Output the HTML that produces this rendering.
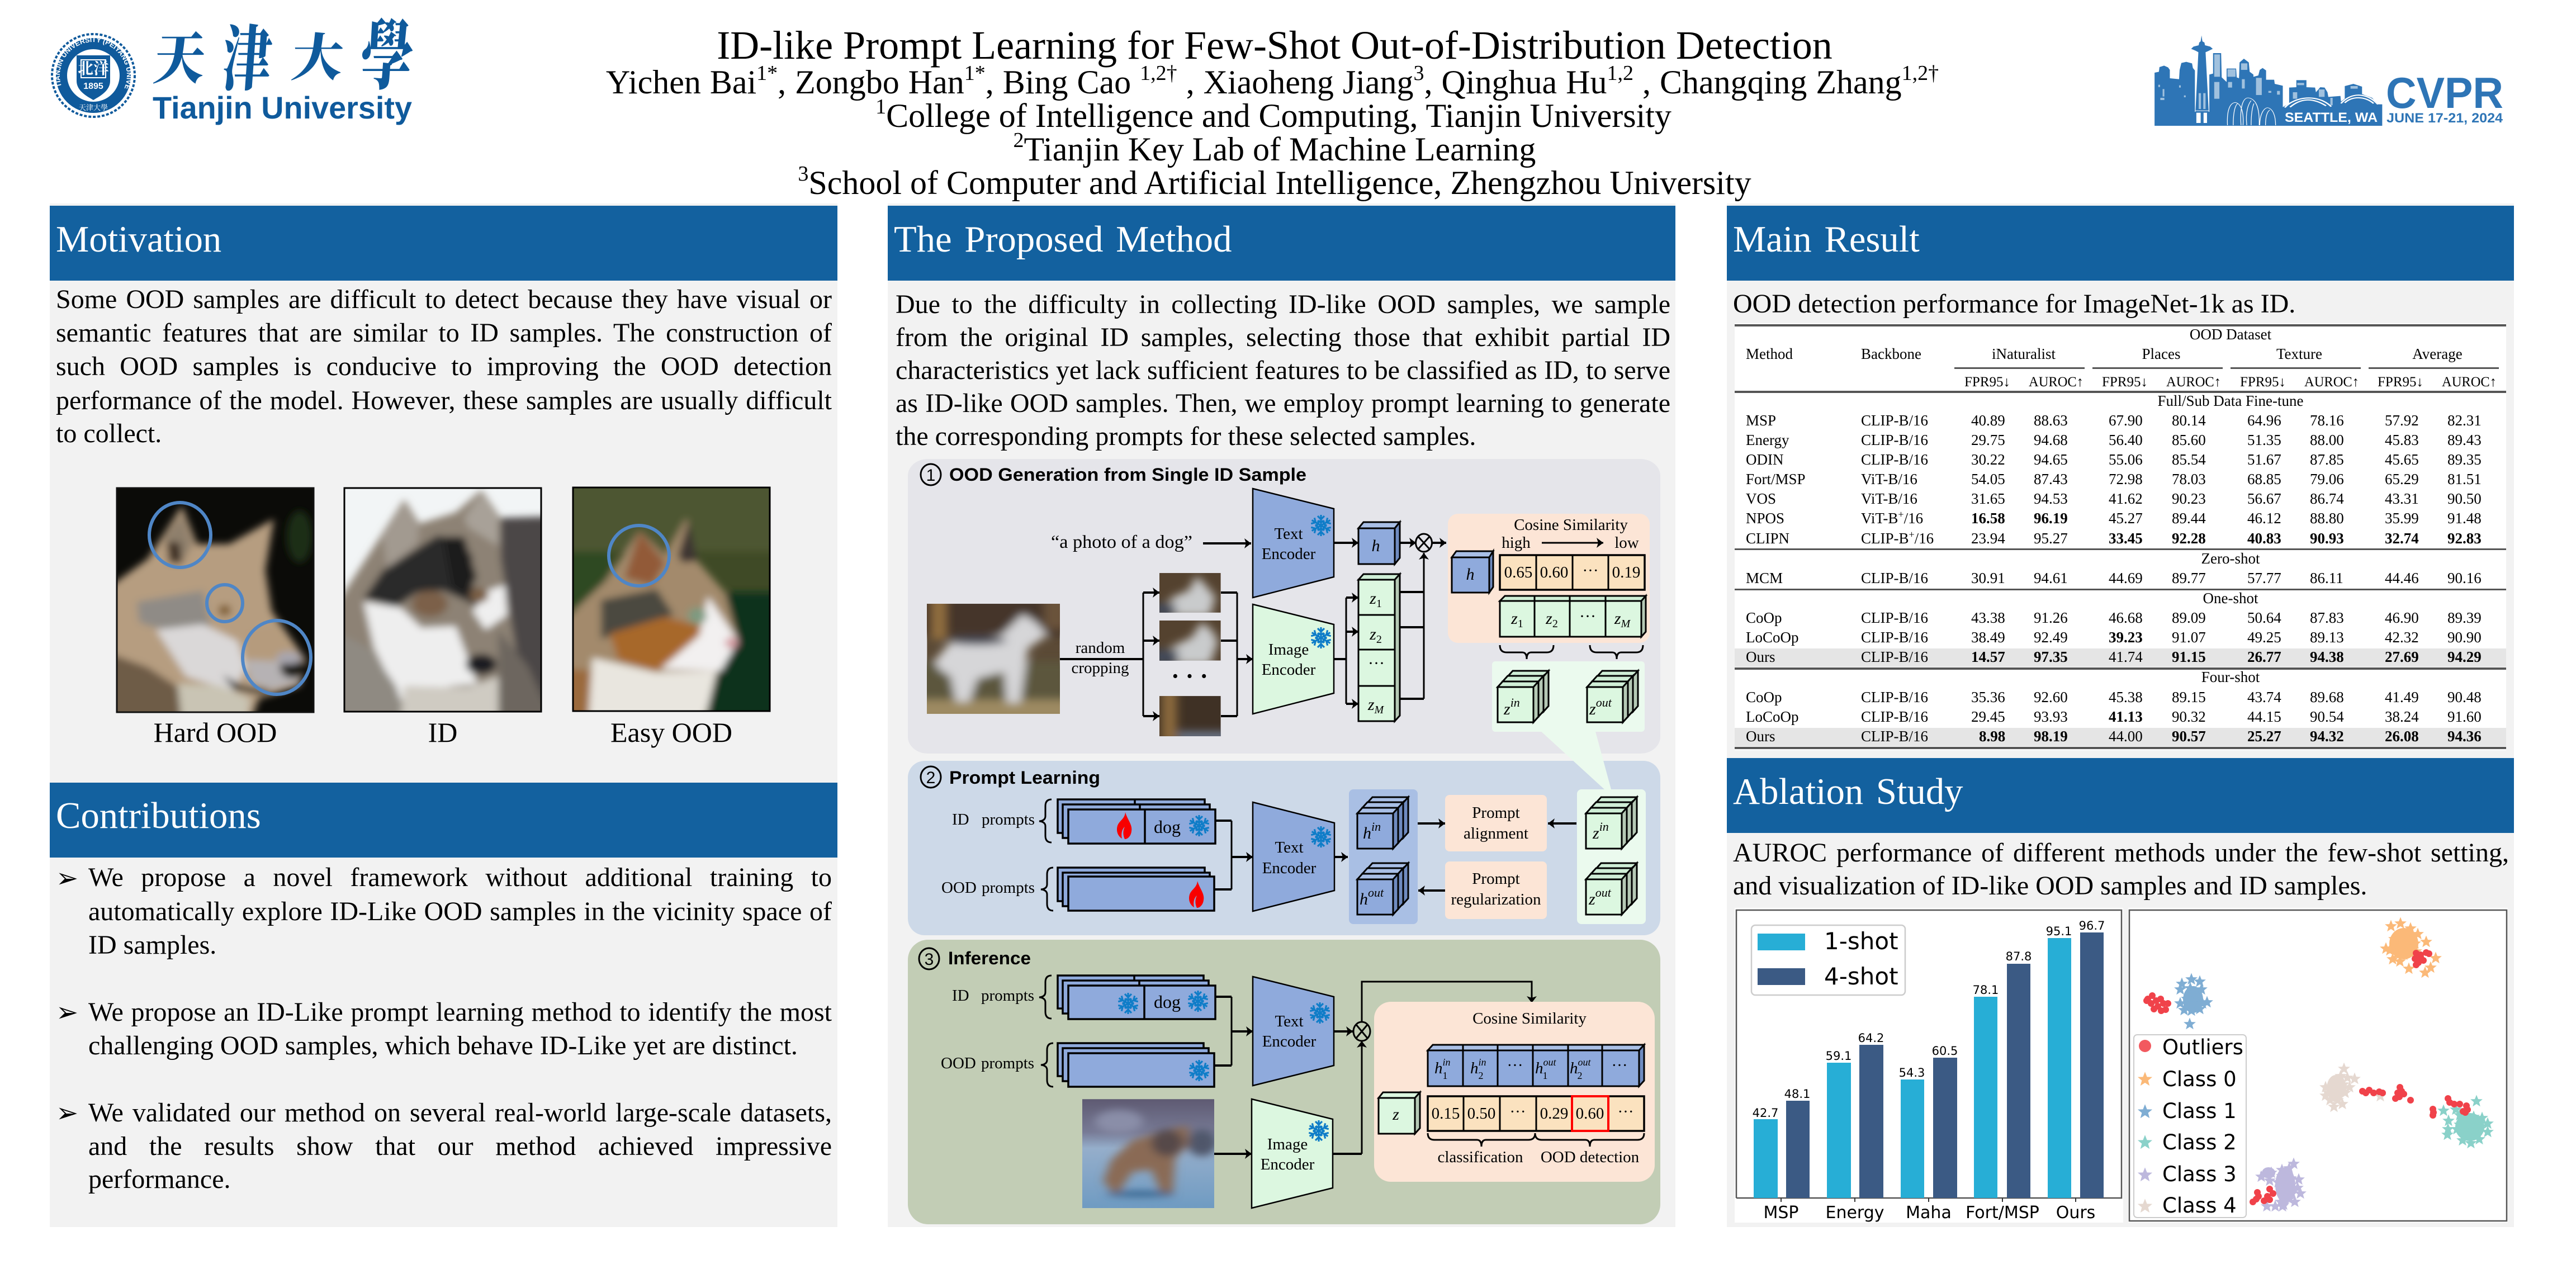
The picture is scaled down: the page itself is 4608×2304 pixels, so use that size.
<!DOCTYPE html>
<html><head><meta charset="utf-8"><title>ID-like Prompt Learning Poster</title>
<style>
html,body{margin:0;padding:0;background:#fff;width:4608px;height:2304px;overflow:hidden}
#w{position:absolute;left:0;top:0;width:4608px;height:2304px}
svg{position:absolute;left:0;top:0}
svg text{font-family:"Liberation Serif","Noto Serif CJK SC",serif;fill:#000}
.j{position:absolute;font:48px/60px "Liberation Serif",serif;color:#000;text-align:justify;text-align-last:justify}
.l{text-align-last:left}
.s{font-family:"Liberation Sans",sans-serif!important;font-weight:700}
.d{font-family:"DejaVu Sans",sans-serif!important}
.i{font-style:italic}
.hd{font-size:66.67px;fill:#fff!important;word-spacing:6px}
.ln{fill:none;stroke:#000;stroke-width:4}
.n{fill:none;stroke:#000;stroke-width:3}
</style></head><body><div id="w">
<svg width="4608" height="2304" viewBox="0 0 4608 2304" xmlns="http://www.w3.org/2000/svg">
<defs>
<marker id="a" markerUnits="userSpaceOnUse" markerWidth="14" markerHeight="18" refX="12" refY="9" orient="auto"><path d="M0,0L12,9L0,18L3,9Z"/></marker>
<filter id="b3" x="-20%" y="-20%" width="140%" height="140%"><feGaussianBlur stdDeviation="9 20"/></filter>
<clipPath id="c1"><rect x="209" y="873" width="352" height="401"/></clipPath>
<clipPath id="c2"><rect x="616" y="873" width="352" height="400"/></clipPath>
<clipPath id="c3"><rect x="1025" y="872" width="352" height="400"/></clipPath>
<clipPath id="c4"><rect x="1658" y="1080" width="238" height="197"/></clipPath>
<clipPath id="c5"><rect x="1936" y="1966" width="236" height="195"/></clipPath>
<clipPath id="c6"><rect x="2074" y="1025" width="110" height="71"/></clipPath>
<clipPath id="c7"><rect x="2074" y="1110" width="110" height="72"/></clipPath>
<clipPath id="c8"><rect x="2074" y="1245" width="110" height="72"/></clipPath>
<linearGradient id="snow" x1="0" y1="0" x2="0" y2="1"><stop offset="0" stop-color="#5e5a72"/><stop offset=".3" stop-color="#777a95"/><stop offset=".45" stop-color="#95aecb"/><stop offset="1" stop-color="#6f9bc2"/></linearGradient>
<g id="arm"><path d="M0,0V-19M-6,-17L0,-11L6,-17M-5,-9L0,-5L5,-9"/></g>
<g id="sf" stroke="#0f7dc8" stroke-width="3.2" fill="none"><use href="#arm"/><use href="#arm" transform="rotate(60)"/><use href="#arm" transform="rotate(120)"/><use href="#arm" transform="rotate(180)"/><use href="#arm" transform="rotate(240)"/><use href="#arm" transform="rotate(300)"/></g>
<path id="fl" fill="#f80000" d="M2,-24C6,-10 15,-2 13,10C12,19 6,24 1,24C-2,18 -3,10 1,2C-6,8 -5,18 -4,23C-11,19 -15,10 -12,0C-9,-9 1,-12 2,-24Z"/>
<g id="cg" stroke="#000" stroke-width="3"><polygon points="0,0 9,-10 73,-10 64,0" fill="#cfeed6"/><polygon points="64,0 73,-10 73,53 64,63" fill="#b5c9b5"/><rect width="64" height="63" fill="#dcf7e0"/></g>
<g id="cb" stroke="#000" stroke-width="3"><polygon points="0,0 9,-10 73,-10 64,0" fill="#a9bfe6"/><polygon points="64,0 73,-10 73,53 64,63" fill="#6f8bc0"/><rect width="64" height="63" fill="#8faadc"/></g>
<g id="zs"><use href="#cg" x="18" y="-19"/><use href="#cg" x="9" y="-10"/><use href="#cg"/></g>
<g id="hs"><use href="#cb" x="18" y="-19"/><use href="#cb" x="9" y="-10"/><use href="#cb"/></g>
<path id="st" d="M0,-11.5L3,-3.9L10.9,-3.6L4.7,1.5L6.8,9.3L0,4.9L-6.8,9.3L-4.7,1.5L-10.9,-3.6L-3,-3.9Z"/>
</defs>

<!-- Panels -->
<rect x="89" y="364" width="1409" height="1831" fill="#f2f2f2"/>
<rect x="1588" y="364" width="1409" height="1831" fill="#f2f2f2"/>
<rect x="3089" y="364" width="1408" height="1831" fill="#f2f2f2"/>
<rect x="89" y="368" width="1409" height="134" fill="#13619f"/>
<rect x="89" y="1400" width="1409" height="134" fill="#13619f"/>
<rect x="1588" y="368" width="1409" height="134" fill="#13619f"/>
<rect x="3089" y="368" width="1408" height="134" fill="#13619f"/>
<rect x="3089" y="1356" width="1408" height="134" fill="#13619f"/>
<text x="100" y="450" class="hd">Motivation</text>
<text x="100" y="1481" class="hd">Contributions</text>
<text x="1599" y="450" class="hd">The Proposed Method</text>
<text x="3100" y="450" class="hd">Main Result</text>
<text x="3100" y="1438" class="hd">Ablation Study</text>

<!-- Title -->
<g text-anchor="middle">
<text x="2280" y="105" font-size="72">ID-like Prompt Learning for Few-Shot Out-of-Distribution Detection</text>
<text x="2276" y="167" font-size="60" word-spacing="1">Yichen Bai<tspan font-size="38" dy="-24">1*</tspan><tspan dy="24">, Zongbo Han</tspan><tspan font-size="38" dy="-24">1*</tspan><tspan dy="24">, Bing Cao </tspan><tspan font-size="38" dy="-24">1,2†</tspan><tspan dy="24"> , Xiaoheng Jiang</tspan><tspan font-size="38" dy="-24">3</tspan><tspan dy="24">, Qinghua Hu</tspan><tspan font-size="38" dy="-24">1,2</tspan><tspan dy="24"> , Changqing Zhang</tspan><tspan font-size="38" dy="-24">1,2†</tspan></text>
<text x="2278" y="227" font-size="60"><tspan font-size="38" dy="-24">1</tspan><tspan dy="24">College of Intelligence and Computing, Tianjin University</tspan></text>
<text x="2280" y="287" font-size="60"><tspan font-size="38" dy="-24">2</tspan><tspan dy="24">Tianjin Key Lab of Machine Learning</tspan></text>
<text x="2280" y="347" font-size="60"><tspan font-size="38" dy="-24">3</tspan><tspan dy="24">School of Computer and Artificial Intelligence, Zhengzhou University</tspan></text>
</g>

<!-- Tianjin logo -->
<g transform="translate(167,135)">
<circle r="74" fill="#fff" stroke="#0f5a9c" stroke-width="4" stroke-dasharray="5 3"/>
<circle r="67" fill="#0f5a9c"/>
<circle r="47" fill="#fff"/>
<path id="sr" d="M-55,24A60,60 0 1 1 55,24" fill="none"/>
<text font-size="12.5" style="fill:#fff" font-family="Liberation Sans" class="s"><textPath href="#sr" startOffset="2%">TIANJIN UNIVERSITY (PEIYANG UNIVERSITY)</textPath></text>
<path d="M-30,-36H30V10C30,28 10,38 0,44C-10,38 -30,28 -30,10Z" fill="#0f5a9c"/>
<path d="M-22,-28H22V4H-22Z" fill="none" stroke="#fff" stroke-width="2"/>
<text x="0" y="-3" text-anchor="middle" font-size="28" style="fill:#fff" font-weight="700">北洋</text>
<text x="0" y="24" text-anchor="middle" font-size="16" style="fill:#fff" class="s">1895</text>
<text x="0" y="62" text-anchor="middle" font-size="13" style="fill:#fff">天津大學</text>
</g>
<g font-family="Noto Serif CJK SC" font-size="96" text-anchor="middle">
<text transform="translate(318,140) scale(.95,1.05) skewX(-6)" style="fill:#0f5a9c;font-weight:900">天</text>
<text transform="translate(439,150) scale(.9,1.32) skewX(-6)" style="fill:#0f5a9c;font-weight:900">津</text>
<text transform="translate(565,135) scale(.95,.95) skewX(-6)" style="fill:#0f5a9c;font-weight:900">大</text>
<text transform="translate(689,148) scale(.98,1.42) skewX(-6)" style="fill:#0f5a9c;font-weight:900">學</text>
</g>
<text x="273" y="212" font-size="56" class="s" style="fill:#0f5a9c" textLength="464" lengthAdjust="spacingAndGlyphs">Tianjin University</text>

<!-- CVPR logo -->
<g transform="translate(3800,0) scale(.5155,.3333)" fill="#2e75b6">
<polygon points="105,675 105,390 120,385 122,360 138,352 152,362 158,375 158,420 190,425 192,375 198,338 215,332 235,340 238,365 245,378 245,600 270,600 295,600 295,400 308,395 308,285 336,285 338,415 355,440 355,368 388,368 390,415 398,420 400,335 415,315 432,335 435,385 448,400 448,412 465,405 470,375 480,365 492,378 492,428 520,428 522,450 550,460 550,575 572,555 572,470 597,468 597,430 632,430 632,468 662,470 665,495 680,468 695,470 705,495 708,520 750,515 752,545 765,530 765,462 795,450 825,465 825,505 860,525 880,560 895,560 895,675"/>
<polygon points="268,190 271,222 278,228 280,243 298,250 307,262 290,275 282,280 295,660 245,660 257,280 247,272 232,262 240,250 258,243 260,228 265,222"/>
<g fill="#fff" fill-opacity=".55"><rect x="250" y="605" width="15" height="55" fill-opacity="1"/><rect x="275" y="605" width="12" height="55" fill-opacity="1"/><rect x="258" y="500" width="8" height="85"/><rect x="274" y="500" width="8" height="85"/><rect x="245" y="592" width="50" height="5"/>
<rect x="125" y="525" width="14" height="12"/><rect x="133" y="478" width="6" height="40"/><rect x="118" y="455" width="6" height="12"/><rect x="190" y="458" width="6" height="12"/><rect x="207" y="512" width="6" height="10"/>
<rect x="312" y="292" width="20" height="120"/><rect x="312" y="440" width="18" height="90"/><rect x="358" y="372" width="28" height="40"/><rect x="360" y="440" width="14" height="30"/><rect x="405" y="340" width="22" height="35"/><rect x="408" y="425" width="10" height="50"/><rect x="457" y="418" width="20" height="92"/><rect x="500" y="488" width="10" height="10"/><rect x="530" y="488" width="10" height="20"/>
<rect x="600" y="445" width="24" height="12"/><rect x="585" y="495" width="15" height="35"/><rect x="675" y="480" width="20" height="40"/><rect x="715" y="525" width="8" height="40"/><rect x="785" y="462" width="25" height="14"/></g>
<g fill="none" stroke="#fff" stroke-width="2.5" vector-effect="non-scaling-stroke">
<path d="M358,672C355,580 370,552 385,550C405,555 415,600 412,672M378,672C378,600 385,560 395,555"/>
<path d="M405,672C400,560 415,525 430,525C455,530 470,570 468,672M425,672C420,600 430,560 440,540M440,672C440,610 445,570 450,555"/>
<path d="M470,672C470,610 485,580 497,578C515,582 525,620 525,672M490,672C490,625 495,600 505,590"/>
<path d="M557,577C590,520 670,500 718,572M575,575C610,530 650,520 700,568" stroke-width="6"/>
<path d="M752,555C790,490 845,500 880,560M765,552C790,515 835,515 865,555" stroke-width="6"/>
</g></g>
<text x="4087" y="218" font-size="24" class="s" style="fill:#fff" textLength="166" lengthAdjust="spacingAndGlyphs">SEATTLE, WA</text>
<text x="4268" y="193" font-size="78" class="s" style="fill:#2e75b6" textLength="210" lengthAdjust="spacingAndGlyphs">CVPR</text>
<text x="4269" y="219" font-size="24" class="s" style="fill:#2e75b6" textLength="208" lengthAdjust="spacingAndGlyphs">JUNE 17-21, 2024</text>

<!-- Motivation photos -->
<g clip-path="url(#c1)"><g transform="translate(180,860) scale(.7651,.3333)"><rect x="38" y="40" width="460" height="1203" fill="#0b0b08"/><g filter="url(#b3)">
<ellipse cx="465" cy="300" rx="30" ry="140" fill="#1c2e14"/>
<polygon points="-10,1300 -10,620 110,420 190,135 225,340 300,340 405,205 385,480 400,700 480,960 465,1100 370,1170 350,1300" fill="#b69d80"/>
<polygon points="150,300 190,180 215,340 190,440 160,420" fill="#8e7f6c"/><polygon points="155,330 185,330 190,445 160,440" fill="#3d2d22"/>
<polygon points="85,650 240,590 260,820 130,790 90,760" fill="#8f8b86"/>
<polygon points="130,800 240,770 320,860 340,1000 310,1130 200,1050" fill="#dad8d8"/>
<polygon points="-10,900 110,1000 190,1120 260,1150 350,1300 -10,1300" fill="#6e5b46"/>
<polygon points="180,1090 280,1100 350,1170 340,1300 190,1300" fill="#c9c4b4"/>
<polygon points="345,800 410,780 470,950 430,1000 340,980" fill="#b59b7d"/>
<polygon points="340,960 430,970 470,1080 400,1120 350,1080" fill="#b6b2b4"/>
<ellipse cx="450" cy="1005" rx="30" ry="55" fill="#14120f"/><ellipse cx="440" cy="950" rx="30" ry="35" fill="#a8a6ae"/>
<polygon points="285,1040 330,1100 400,1125 380,1150 310,1120" fill="#1e1a18"/>
<ellipse cx="290" cy="695" rx="14" ry="30" fill="#7b5a2c"/></g></g></g>
<rect x="209" y="873" width="352" height="401" fill="none" stroke="#111" stroke-width="3"/>
<g fill="none" stroke="#4f86c6" stroke-width="6"><ellipse cx="322" cy="957" rx="55" ry="58"/><ellipse cx="402" cy="1079" rx="32" ry="33"/><ellipse cx="495" cy="1176" rx="61" ry="66"/></g>

<g clip-path="url(#c2)"><g transform="translate(180,860) scale(.7651,.3333)"><rect x="570" y="40" width="460" height="1200" fill="#f2f5f6"/><g filter="url(#b3)">
<polygon points="925,200 1080,190 1080,1300 925,1300" fill="#4b4646"/>
<polygon points="540,1300 540,700 640,350 710,100 745,230 830,170 890,50 935,200 935,420 955,700 1000,1300" fill="#8d8274"/>
<polygon points="660,300 710,120 745,250 740,340 670,470" fill="#a29a90"/><polygon points="850,200 890,70 930,200 930,350 860,250" fill="#a8a198"/>
<polygon points="615,630 660,480 790,290 870,400 860,560 905,600 890,690 850,640 800,590 740,600 690,680" fill="#2b2929"/>
<polygon points="800,300 850,300 880,520 850,620 820,560" fill="#1d1c1c"/>
<polygon points="615,650 700,680 750,790 830,780 880,1090 820,1100 700,1180 640,900" fill="#eeeeee"/>
<polygon points="905,590 945,560 950,720 900,800 870,700" fill="#efefef"/>
<ellipse cx="770" cy="660" rx="42" ry="70" fill="#7b6048"/><ellipse cx="885" cy="615" rx="22" ry="40" fill="#7a5f45"/>
<ellipse cx="890" cy="985" rx="36" ry="55" fill="#1e1e20"/>
<polygon points="540,800 630,900 690,1100 720,1300 540,1300" fill="#8f8a82"/>
<polygon points="930,800 1000,1000 1060,1300 930,1300" fill="#6d665f"/>
<polygon points="710,1100 860,1110 930,1050 930,1300 700,1300" fill="#cfcbc2"/></g></g></g>
<rect x="616" y="873" width="352" height="400" fill="none" stroke="#000" stroke-width="3"/>

<g clip-path="url(#c3)"><g transform="translate(180,860) scale(.7651,.3333)"><rect x="1105" y="37" width="460" height="1200" fill="#3f4a26"/><g filter="url(#b3)">
<rect x="1060" y="-20" width="560" height="400" fill="#4e5730"/>
<rect x="1420" y="600" width="200" height="700" fill="#10301c"/>
<rect x="1060" y="380" width="135" height="300" fill="#2f4a22"/>
<polygon points="1060,1300 1060,800 1180,540 1260,270 1320,400 1370,200 1395,430 1460,600 1490,860 1440,1040 1410,1300" fill="#a38a6c"/>
<polygon points="1225,520 1260,275 1320,440 1290,560" fill="#925a38"/><polygon points="1350,400 1375,215 1395,430 1360,440" fill="#3e3430"/>
<polygon points="1170,850 1170,640 1300,580 1340,720 1290,760 1210,820" fill="#4b4a40"/>
<polygon points="1190,820 1320,730 1420,790 1400,880 1300,1020 1210,960" fill="#a7672c"/>
<polygon points="1060,1000 1150,1020 1150,1300 1060,1300" fill="#9b6a3e"/>
<polygon points="1150,950 1300,1030 1440,1020 1410,1300 1140,1300" fill="#e9e6df"/>
<polygon points="1420,620 1490,860 1450,1020 1310,1010 1400,830" fill="#f2f0f0"/>
<ellipse cx="1395" cy="725" rx="22" ry="45" fill="#7e9a80"/><ellipse cx="1475" cy="870" rx="15" ry="30" fill="#d59aa0"/></g></g></g>
<rect x="1025" y="872" width="352" height="400" fill="none" stroke="#000" stroke-width="3"/>
<ellipse cx="1143" cy="994" rx="54" ry="54" fill="none" stroke="#4f86c6" stroke-width="6"/>
<g font-size="50" text-anchor="middle"><text x="385" y="1327">Hard OOD</text><text x="792" y="1327">ID</text><text x="1201" y="1327">Easy OOD</text></g>

<g font-size="48"><text x="100" y="1587" class="d">➢</text><text x="100" y="1827" class="d">➢</text><text x="100" y="2007" class="d">➢</text></g>

<!-- Diagram panel backgrounds -->
<rect x="1624" y="821" width="1346" height="527" rx="36" ry="30" fill="#e5e5ea"/>
<rect x="1624" y="1361" width="1346" height="312" rx="30" fill="#cdd9e8"/>
<rect x="1624" y="1681" width="1346" height="509" rx="36" fill="#c2cdb5"/>
<polygon points="2753,1305 2853,1305 2882,1412 2870,1412" fill="#ebfaee"/>

<!-- Panel 1 -->
<g class="p1">
<ellipse cx="1665" cy="849" rx="18" ry="19" class="n"/><text x="1665" y="860" font-size="30" text-anchor="middle" class="s" style="font-weight:400">1</text>
<text x="1698" y="860" font-size="32" class="s" textLength="639" lengthAdjust="spacingAndGlyphs">OOD Generation from Single ID Sample</text>

<polygon points="2241,874 2386,910 2386,1032 2241,1069" fill="#8faadc" stroke="#000" stroke-width="2.5"/>
<polygon points="2241,1081 2386,1117 2386,1240 2241,1277" fill="#dcf7e0" stroke="#000" stroke-width="2.5"/>
<use href="#sf" transform="translate(2363,940)"/><use href="#sf" transform="translate(2363,1141)"/>
<g font-size="29" text-anchor="middle"><text x="2305" y="964">Text</text><text x="2305" y="1000">Encoder</text><text x="2305" y="1171">Image</text><text x="2305" y="1207">Encoder</text>
<text x="1968" y="1168">random</text><text x="1968" y="1204">cropping</text></g>
<text x="1880" y="980" font-size="33" textLength="253" lengthAdjust="spacingAndGlyphs">“a photo of a dog”</text>
<path d="M2152,972H2238" class="ln" marker-end="url(#a)"/>
<path d="M2386,971H2430" class="ln" marker-end="url(#a)"/>
<g stroke="#000" stroke-width="3"><polygon points="2430,945 2439,934 2504,934 2495,945" fill="#a9bfe6"/><polygon points="2495,945 2504,934 2504,998 2495,1009" fill="#6f8bc0"/><rect x="2430" y="945" width="65" height="64" fill="#8faadc"/></g>
<text x="2461" y="986" font-size="30" class="i" text-anchor="middle">h</text>
<path d="M2504,971H2533" class="ln" marker-end="url(#a)"/>
<ellipse cx="2547" cy="971" rx="14.5" ry="16" class="n"/><path d="M2537,960L2557,982M2557,960L2537,982" class="n"/>
<path d="M2561,971H2587" class="ln" marker-end="url(#a)"/>
<g stroke="#000" stroke-width="3"><polygon points="2430,1037 2439,1027 2504,1027 2495,1037" fill="#cfeed6"/><polygon points="2495,1037 2504,1027 2504,1280 2495,1290" fill="#b5c9b5"/>
<rect x="2430" y="1037" width="65" height="63" fill="#dcf7e0"/><rect x="2430" y="1100" width="65" height="62" fill="#dcf7e0"/><rect x="2430" y="1162" width="65" height="65" fill="#dcf7e0"/><rect x="2430" y="1227" width="65" height="63" fill="#dcf7e0"/></g>
<g font-size="30" text-anchor="middle"><text x="2461" y="1080" class="i">z<tspan font-size="20" dy="6" style="font-style:normal">1</tspan></text><text x="2461" y="1144" class="i">z<tspan font-size="20" dy="6" style="font-style:normal">2</tspan></text><text x="2462" y="1196">···</text><text x="2461" y="1270" class="i">z<tspan font-size="20" dy="6">M</tspan></text></g>
<path d="M2504,1059H2547M2504,1122H2547M2504,1250H2547" class="ln"/>
<path d="M2547,1250V989" class="n" marker-end="url(#a)"/>
<path d="M2386,1179H2408" class="ln"/>
<path d="M2408,1069V1259" class="n"/>
<path d="M2408,1069H2430" class="ln" marker-end="url(#a)"/><path d="M2408,1130H2430" class="ln" marker-end="url(#a)"/><path d="M2408,1259H2430" class="ln" marker-end="url(#a)"/>
<g clip-path="url(#c4)"><g transform="translate(1600,800) scale(.9567,.3827)"><rect x="61" y="733" width="248" height="512" fill="#5b4a36"/><g filter="url(#b3)">
<rect x="20" y="700" width="330" height="180" fill="#45362a"/><rect x="70" y="700" width="26" height="200" fill="#93703f"/><rect x="280" y="700" width="50" height="150" fill="#6a533a"/>
<rect x="20" y="1000" width="330" height="190" fill="#5c573c"/><rect x="20" y="1180" width="330" height="100" fill="#9d8a62"/>
<polygon points="75,1000 105,910 200,880 240,780 265,820 285,880 250,940 235,1195 210,1195 205,1050 155,1080 140,1190 115,1190 105,1070 85,1040" fill="#d6d6d8"/>
<ellipse cx="155" cy="905" rx="55" ry="20" fill="#444a58"/></g></g></g>
<path d="M1896,1179H2045" class="ln"/><path d="M2045,1060V1281" class="n"/>
<path d="M2045,1060H2074" class="ln" marker-end="url(#a)"/><path d="M2045,1146H2074" class="ln" marker-end="url(#a)"/><path d="M2045,1281H2074" class="ln" marker-end="url(#a)"/>
<g clip-path="url(#c6)"><g transform="translate(1600,800) scale(.9567,.3827)"><rect x="495" y="588" width="115" height="185" fill="#54422f"/><g filter="url(#b3)"><polygon points="495,790 520,700 550,670 565,600 580,640 600,700 590,790" fill="#c9cbcc"/><rect x="480" y="730" width="45" height="60" fill="#424a58"/></g></g></g>
<g clip-path="url(#c7)"><g transform="translate(1600,800) scale(.9567,.3827)"><rect x="495" y="810" width="115" height="187" fill="#54422f"/><g filter="url(#b3)"><polygon points="495,1015 520,930 555,890 575,815 595,860 605,910 590,1015" fill="#c9cbcc"/><rect x="480" y="945" width="50" height="70" fill="#424a58"/></g></g></g>
<g clip-path="url(#c8)"><g transform="translate(1600,800) scale(.9567,.3827)"><rect x="495" y="1163" width="115" height="190" fill="#3f3125"/><g filter="url(#b3)"><rect x="500" y="1130" width="28" height="250" fill="#8c6a3e"/><rect x="530" y="1330" width="100" height="45" fill="#6d7a90"/></g></g></g>
<text x="2128" y="1224" font-size="44" text-anchor="middle" font-weight="700">· · ·</text>
<path d="M2184,1060H2213M2184,1146H2213M2184,1281H2213" class="ln"/><path d="M2213,1060V1281" class="n"/>
<path d="M2213,1179H2241" class="ln" marker-end="url(#a)"/>

<rect x="2590" y="919" width="361" height="231" rx="18" fill="#fce5d6"/>
<g font-size="29" text-anchor="middle"><text x="2810" y="948">Cosine Similarity</text><text x="2712" y="980">high</text><text x="2910" y="980">low</text></g>
<path d="M2758,971H2868" class="n" marker-end="url(#a)"/>
<g stroke="#000" stroke-width="3"><polygon points="2597,997 2605,986 2671,986 2664,997" fill="#a9bfe6"/><polygon points="2664,997 2671,986 2671,1050 2664,1060" fill="#6f8bc0"/><rect x="2597" y="997" width="67" height="63" fill="#8faadc"/></g>
<text x="2630" y="1037" font-size="30" class="i" text-anchor="middle">h</text>
<rect x="2683" y="993" width="259" height="62" fill="#fbe2bf" stroke="#000" stroke-width="3.5"/>
<path d="M2748,993V1055M2813,993V1055M2877,993V1055" class="n"/>
<g font-size="29" text-anchor="middle"><text x="2716" y="1033">0.65</text><text x="2780" y="1033">0.60</text><text x="2845" y="1030">···</text><text x="2909" y="1033">0.19</text></g>
<g stroke="#000" stroke-width="3"><polygon points="2683,1075 2692,1066 2944,1066 2936,1075" fill="#cfeed6"/><polygon points="2936,1075 2944,1066 2944,1130 2936,1139" fill="#b5c9b5"/><rect x="2683" y="1075" width="253" height="64" fill="#dcf7e0"/></g>
<path d="M2745,1066V1139M2808,1066V1139M2872,1066V1139" class="n"/>
<g font-size="30" text-anchor="middle"><text x="2714" y="1116" class="i">z<tspan font-size="20" dy="6" style="font-style:normal">1</tspan></text><text x="2776" y="1116" class="i">z<tspan font-size="20" dy="6" style="font-style:normal">2</tspan></text><text x="2840" y="1112">···</text><text x="2902" y="1116" class="i">z<tspan font-size="20" dy="6">M</tspan></text></g>
<path d="M2683,1154Q2683,1167 2695,1167H2723Q2731,1167 2731,1179Q2731,1167 2739,1167H2767Q2779,1167 2779,1154" class="n"/>
<path d="M2844,1154Q2844,1167 2856,1167H2884Q2892,1167 2892,1179Q2892,1167 2900,1167H2927Q2939,1167 2939,1154" class="n"/>
<rect x="2669" y="1183" width="273" height="126" rx="6" fill="#ebfaee"/>
<use href="#zs" x="2679" y="1229"/><use href="#zs" x="2839" y="1229"/>
<text x="2690" y="1278" font-size="30" class="i">z<tspan font-size="22" dy="-14">in</tspan></text>
<text x="2843" y="1278" font-size="30" class="i">z<tspan font-size="22" dy="-14">out</tspan></text>
</g>

<!-- Panel 2 -->
<g>
<ellipse cx="1665" cy="1390" rx="18" ry="19" class="n"/><text x="1665" y="1401" font-size="30" text-anchor="middle" class="s" style="font-weight:400">2</text>
<text x="1698" y="1402" font-size="32" class="s" textLength="270" lengthAdjust="spacingAndGlyphs">Prompt Learning</text>
<g font-size="29"><text x="1703" y="1475">ID</text><text x="1756" y="1475">prompts</text><text x="1684" y="1597">OOD</text><text x="1756" y="1597">prompts</text></g>
<path d="M1881,1430Q1870,1430 1870,1442V1460Q1870,1468 1859,1469Q1870,1470 1870,1478V1495Q1870,1507 1881,1507" class="n"/>
<path d="M1884,1552Q1873,1552 1873,1564V1582Q1873,1590 1862,1591Q1873,1592 1873,1600V1617Q1873,1629 1884,1629" class="n"/>
<g stroke="#000" stroke-width="3.5" fill="#8faadc"><rect x="1892" y="1430" width="263" height="60"/><rect x="1901" y="1439" width="263" height="60"/><rect x="1911" y="1448" width="263" height="61"/>
<path d="M2030,1430V1439M2039,1439V1448" fill="none"/><path d="M2048,1448V1509" fill="none"/>
<rect x="1892" y="1552" width="263" height="60"/><rect x="1901" y="1561" width="263" height="60"/><rect x="1911" y="1568" width="261" height="61"/></g>
<use href="#fl" transform="translate(2011,1477)"/><use href="#fl" transform="translate(2140,1600)"/>
<text x="2088" y="1490" font-size="32" text-anchor="middle">dog</text><use href="#sf" transform="translate(2145,1477)"/>
<path d="M2174,1468H2203M2172,1591H2203" class="ln"/><path d="M2203,1468V1591" class="n"/>
<path d="M2203,1533H2241" class="ln" marker-end="url(#a)"/>
<polygon points="2241,1435 2387,1472 2387,1593 2241,1630" fill="#8faadc" stroke="#000" stroke-width="2.5"/>
<use href="#sf" transform="translate(2363,1497)"/>
<g font-size="29" text-anchor="middle"><text x="2306" y="1525">Text</text><text x="2306" y="1562">Encoder</text></g>
<path d="M2387,1533H2411" class="ln" marker-end="url(#a)"/>
<rect x="2413" y="1412" width="123" height="241" rx="8" fill="#a9bfe4"/>
<use href="#hs" x="2428" y="1455"/><use href="#hs" x="2428" y="1573"/>
<text x="2438" y="1500" font-size="30" class="i">h<tspan font-size="22" dy="-14">in</tspan></text>
<text x="2432" y="1618" font-size="30" class="i">h<tspan font-size="22" dy="-14">out</tspan></text>
<path d="M2536,1473H2585" class="ln" marker-end="url(#a)"/>
<rect x="2585" y="1422" width="182" height="101" rx="8" fill="#fce5d6"/><rect x="2585" y="1541" width="182" height="103" rx="8" fill="#fce5d6"/>
<g font-size="29" text-anchor="middle"><text x="2676" y="1463">Prompt</text><text x="2676" y="1500">alignment</text><text x="2676" y="1581">Prompt</text><text x="2676" y="1618">regularization</text></g>
<path d="M2585,1593H2537" class="ln" marker-end="url(#a)"/>
<path d="M2820,1473H2769" class="ln" marker-end="url(#a)"/>
<rect x="2821" y="1412" width="123" height="241" rx="8" fill="#ebfaee"/>
<use href="#zs" x="2837" y="1455"/><use href="#zs" x="2837" y="1573"/>
<text x="2849" y="1500" font-size="30" class="i">z<tspan font-size="22" dy="-14">in</tspan></text>
<text x="2842" y="1618" font-size="30" class="i">z<tspan font-size="22" dy="-14">out</tspan></text>
</g>

<!-- Panel 3 -->
<g>
<ellipse cx="1662" cy="1715" rx="18" ry="19" class="n"/><text x="1662" y="1726" font-size="30" text-anchor="middle" class="s" style="font-weight:400">3</text>
<text x="1696" y="1725" font-size="32" class="s" textLength="148" lengthAdjust="spacingAndGlyphs">Inference</text>
<g font-size="29"><text x="1703" y="1790">ID</text><text x="1755" y="1790">prompts</text><text x="1683" y="1911">OOD</text><text x="1755" y="1911">prompts</text></g>
<path d="M1881,1745Q1870,1745 1870,1757V1775Q1870,1783 1859,1784Q1870,1785 1870,1793V1810Q1870,1822 1881,1822" class="n"/>
<path d="M1884,1866Q1873,1866 1873,1878V1896Q1873,1904 1862,1905Q1873,1906 1873,1914V1932Q1873,1944 1884,1944" class="n"/>
<g stroke="#000" stroke-width="3.5" fill="#8faadc"><rect x="1892" y="1745" width="261" height="59"/><rect x="1901" y="1754" width="261" height="59"/><rect x="1911" y="1763" width="263" height="60"/>
<path d="M2029,1745V1754M2038,1754V1763M2047,1763V1823" fill="none"/>
<rect x="1892" y="1866" width="261" height="59"/><rect x="1901" y="1875" width="261" height="59"/><rect x="1911" y="1884" width="261" height="60"/></g>
<use href="#sf" transform="translate(2018,1795)"/><use href="#sf" transform="translate(2143,1791)"/><use href="#sf" transform="translate(2145,1915)"/>
<text x="2088" y="1803" font-size="32" text-anchor="middle">dog</text>
<path d="M2174,1783H2203M2172,1906H2203" class="ln"/><path d="M2203,1783V1906" class="n"/>
<path d="M2203,1845H2241" class="ln" marker-end="url(#a)"/>
<polygon points="2241,1747 2386,1783 2386,1906 2241,1942" fill="#8faadc" stroke="#000" stroke-width="2.5"/>
<use href="#sf" transform="translate(2361,1812)"/>
<path d="M2386,1845H2420" class="ln" marker-end="url(#a)"/>
<ellipse cx="2436" cy="1845" rx="15" ry="17" class="n"/><path d="M2426,1833L2446,1857M2446,1833L2426,1857" class="n"/>
<path d="M2436,1828V1756H2740V1794" class="n" marker-end="url(#a)"/>
<polygon points="2239,1966 2384,2002 2384,2125 2239,2161" fill="#dcf7e0" stroke="#000" stroke-width="2.5"/>
<use href="#sf" transform="translate(2359,2023)"/>
<g font-size="29" text-anchor="middle"><text x="2306" y="1836">Text</text><text x="2306" y="1872">Encoder</text><text x="2303" y="2056">Image</text><text x="2303" y="2092">Encoder</text></g>
<g clip-path="url(#c5)"><g transform="translate(1600,1700) scale(.9567,.3444)"><rect x="351" y="773" width="248" height="566" fill="url(#snow)"/><g filter="url(#b3)">
<ellipse cx="420" cy="890" rx="45" ry="60" fill="#8a8ea8"/><ellipse cx="575" cy="1000" rx="28" ry="70" fill="#50566a"/>
<polygon points="390,1200 405,1090 445,985 520,925 550,910 550,1010 525,1080 520,1270 500,1270 480,1140 445,1150 415,1275" fill="#8a6a55"/>
<ellipse cx="510" cy="1000" rx="30" ry="70" fill="#564a48"/><ellipse cx="460" cy="1265" rx="65" ry="14" fill="#2c5a85"/></g></g></g>
<path d="M2172,2064H2239" class="ln" marker-end="url(#a)"/>
<path d="M2384,2064H2436" class="ln"/><path d="M2436,2064V1862" class="n" marker-end="url(#a)"/>
<rect x="2458" y="1792" width="502" height="322" rx="30" fill="#fce5d6"/>
<text x="2736" y="1831" font-size="29" text-anchor="middle">Cosine Similarity</text>
<g stroke="#000" stroke-width="3"><polygon points="2554,1879 2563,1869 2941,1869 2932,1879" fill="#a9bfe6"/><polygon points="2932,1879 2941,1869 2941,1933 2932,1943" fill="#6f8bc0"/><rect x="2554" y="1879" width="378" height="64" fill="#8faadc"/></g>
<path d="M2617,1869V1943M2679,1869V1943M2742,1869V1943M2805,1869V1943M2866,1869V1943" class="n"/>
<g font-size="29" class="i">
<text x="2566" y="1920">h<tspan font-size="18" dy="-14">in</tspan><tspan font-size="18" dx="-14" dy="24" style="font-style:normal">1</tspan></text>
<text x="2630" y="1920">h<tspan font-size="18" dy="-14">in</tspan><tspan font-size="18" dx="-14" dy="24" style="font-style:normal">2</tspan></text>
<text x="2746" y="1920">h<tspan font-size="18" dy="-14">out</tspan><tspan font-size="18" dx="-24" dy="24" style="font-style:normal">1</tspan></text>
<text x="2808" y="1920">h<tspan font-size="18" dy="-14">out</tspan><tspan font-size="18" dx="-24" dy="24" style="font-style:normal">2</tspan></text>
<text x="2710" y="1915" text-anchor="middle" style="font-style:normal">···</text><text x="2897" y="1915" text-anchor="middle" style="font-style:normal">···</text></g>
<g stroke="#000" stroke-width="3"><polygon points="2466,1964 2474,1954 2540,1954 2531,1964" fill="#dcf7e0"/><polygon points="2531,1964 2540,1954 2540,2018 2531,2028" fill="#b5c9b5"/><rect x="2466" y="1964" width="65" height="64" fill="#dcf7e0"/></g>
<text x="2497" y="2003" font-size="30" class="i" text-anchor="middle">z</text>
<rect x="2554" y="1961" width="387" height="62" fill="#fbe2bf" stroke="#000" stroke-width="3.5"/>
<path d="M2618,1961V2023M2683,1961V2023M2748,1961V2023M2877,1961V2023" class="n"/>
<rect x="2812" y="1961" width="65" height="62" fill="none" stroke="#f00" stroke-width="4"/>
<g font-size="29" text-anchor="middle"><text x="2586" y="2001">0.15</text><text x="2650" y="2001">0.50</text><text x="2715" y="1998">···</text><text x="2780" y="2001">0.29</text><text x="2844" y="2001">0.60</text><text x="2908" y="1998">···</text></g>
<path d="M2554,2027Q2554,2039 2566,2039H2642Q2650,2039 2650,2051Q2650,2039 2658,2039H2734Q2746,2039 2746,2027Q2746,2039 2758,2039H2836Q2844,2039 2844,2051Q2844,2039 2852,2039H2929Q2941,2039 2941,2027" class="n"/>
<g font-size="29" text-anchor="middle"><text x="2648" y="2079">classification</text><text x="2844" y="2079">OOD detection</text></g>
</g>

<!-- Main Result text/table -->
<rect x="3103" y="578" width="1380" height="764" fill="#fff"/>
<rect x="3103" y="1160" width="1380" height="33" fill="#e5e5e5"/><rect x="3103" y="1302" width="1380" height="33" fill="#e5e5e5"/>
<g fill="#555"><rect x="3103" y="580" width="1380" height="4"/><rect x="3103" y="699" width="1380" height="4"/><rect x="3103" y="981" width="1380" height="3"/><rect x="3103" y="1053" width="1380" height="3"/><rect x="3103" y="1194" width="1380" height="4"/><rect x="3103" y="1336" width="1380" height="4"/>
<rect x="3496" y="657" width="233" height="3"/><rect x="3743" y="657" width="233" height="3"/><rect x="3990" y="657" width="233" height="3"/><rect x="4237" y="657" width="233" height="3"/></g>
<g font-size="27">
<g text-anchor="middle"><text x="3990" y="607">OOD Dataset</text><text x="3620" y="642">iNaturalist</text><text x="3866" y="642">Places</text><text x="4113" y="642">Texture</text><text x="4360" y="642">Average</text><text x="3990" y="726">Full/Sub Data Fine-tune</text><text x="3990" y="1008">Zero-shot</text><text x="3990" y="1079">One-shot</text><text x="3990" y="1220">Four-shot</text></g>
<text x="3123" y="642">Method</text><text x="3329" y="642">Backbone</text>
<g font-size="25"><text x="3514" y="691" textLength="82" lengthAdjust="spacingAndGlyphs">FPR95↓</text><text x="3629" y="691" textLength="98" lengthAdjust="spacingAndGlyphs">AUROC↑</text>
<text x="3760" y="691" textLength="82" lengthAdjust="spacingAndGlyphs">FPR95↓</text><text x="3875" y="691" textLength="98" lengthAdjust="spacingAndGlyphs">AUROC↑</text>
<text x="4007" y="691" textLength="82" lengthAdjust="spacingAndGlyphs">FPR95↓</text><text x="4122" y="691" textLength="98" lengthAdjust="spacingAndGlyphs">AUROC↑</text>
<text x="4253" y="691" textLength="82" lengthAdjust="spacingAndGlyphs">FPR95↓</text><text x="4368" y="691" textLength="98" lengthAdjust="spacingAndGlyphs">AUROC↑</text></g>
<text y="761"><tspan x="3123">MSP</tspan><tspan x="3329">CLIP-B/16</tspan><tspan x="3526">40.89</tspan><tspan x="3638">88.63</tspan><tspan x="3772">67.90</tspan><tspan x="3885">80.14</tspan><tspan x="4020">64.96</tspan><tspan x="4132">78.16</tspan><tspan x="4266">57.92</tspan><tspan x="4378">82.31</tspan></text>
<text y="796"><tspan x="3123">Energy</tspan><tspan x="3329">CLIP-B/16</tspan><tspan x="3526">29.75</tspan><tspan x="3638">94.68</tspan><tspan x="3772">56.40</tspan><tspan x="3885">85.60</tspan><tspan x="4020">51.35</tspan><tspan x="4132">88.00</tspan><tspan x="4266">45.83</tspan><tspan x="4378">89.43</tspan></text>
<text y="831"><tspan x="3123">ODIN</tspan><tspan x="3329">CLIP-B/16</tspan><tspan x="3526">30.22</tspan><tspan x="3638">94.65</tspan><tspan x="3772">55.06</tspan><tspan x="3885">85.54</tspan><tspan x="4020">51.67</tspan><tspan x="4132">87.85</tspan><tspan x="4266">45.65</tspan><tspan x="4378">89.35</tspan></text>
<text y="866"><tspan x="3123">Fort/MSP</tspan><tspan x="3329">ViT-B/16</tspan><tspan x="3526">54.05</tspan><tspan x="3638">87.43</tspan><tspan x="3772">72.98</tspan><tspan x="3885">78.03</tspan><tspan x="4020">68.85</tspan><tspan x="4132">79.06</tspan><tspan x="4266">65.29</tspan><tspan x="4378">81.51</tspan></text>
<text y="901"><tspan x="3123">VOS</tspan><tspan x="3329">ViT-B/16</tspan><tspan x="3526">31.65</tspan><tspan x="3638">94.53</tspan><tspan x="3772">41.62</tspan><tspan x="3885">90.23</tspan><tspan x="4020">56.67</tspan><tspan x="4132">86.74</tspan><tspan x="4266">43.31</tspan><tspan x="4378">90.50</tspan></text>
<text y="936"><tspan x="3123">NPOS</tspan><tspan x="3329">ViT-B</tspan><tspan font-size="18" dy="-10">+</tspan><tspan dy="10">/16</tspan><tspan x="3526" font-weight="700">16.58</tspan><tspan x="3638" font-weight="700">96.19</tspan><tspan x="3772">45.27</tspan><tspan x="3885">89.44</tspan><tspan x="4020">46.12</tspan><tspan x="4132">88.80</tspan><tspan x="4266">35.99</tspan><tspan x="4378">91.48</tspan></text>
<text y="972"><tspan x="3123">CLIPN</tspan><tspan x="3329">CLIP-B</tspan><tspan font-size="18" dy="-10">+</tspan><tspan dy="10">/16</tspan><tspan x="3526">23.94</tspan><tspan x="3638">95.27</tspan><tspan x="3772" font-weight="700">33.45</tspan><tspan x="3885" font-weight="700">92.28</tspan><tspan x="4020" font-weight="700">40.83</tspan><tspan x="4132" font-weight="700">90.93</tspan><tspan x="4266" font-weight="700">32.74</tspan><tspan x="4378" font-weight="700">92.83</tspan></text>
<text y="1043"><tspan x="3123">MCM</tspan><tspan x="3329">CLIP-B/16</tspan><tspan x="3526">30.91</tspan><tspan x="3638">94.61</tspan><tspan x="3772">44.69</tspan><tspan x="3885">89.77</tspan><tspan x="4020">57.77</tspan><tspan x="4132">86.11</tspan><tspan x="4266">44.46</tspan><tspan x="4378">90.16</tspan></text>
<text y="1114"><tspan x="3123">CoOp</tspan><tspan x="3329">CLIP-B/16</tspan><tspan x="3526">43.38</tspan><tspan x="3638">91.26</tspan><tspan x="3772">46.68</tspan><tspan x="3885">89.09</tspan><tspan x="4020">50.64</tspan><tspan x="4132">87.83</tspan><tspan x="4266">46.90</tspan><tspan x="4378">89.39</tspan></text>
<text y="1149"><tspan x="3123">LoCoOp</tspan><tspan x="3329">CLIP-B/16</tspan><tspan x="3526">38.49</tspan><tspan x="3638">92.49</tspan><tspan x="3772" font-weight="700">39.23</tspan><tspan x="3885">91.07</tspan><tspan x="4020">49.25</tspan><tspan x="4132">89.13</tspan><tspan x="4266">42.32</tspan><tspan x="4378">90.90</tspan></text>
<text y="1184"><tspan x="3123">Ours</tspan><tspan x="3329">CLIP-B/16</tspan><tspan x="3526" font-weight="700">14.57</tspan><tspan x="3638" font-weight="700">97.35</tspan><tspan x="3772">41.74</tspan><tspan x="3885" font-weight="700">91.15</tspan><tspan x="4020" font-weight="700">26.77</tspan><tspan x="4132" font-weight="700">94.38</tspan><tspan x="4266" font-weight="700">27.69</tspan><tspan x="4378" font-weight="700">94.29</tspan></text>
<text y="1256"><tspan x="3123">CoOp</tspan><tspan x="3329">CLIP-B/16</tspan><tspan x="3526">35.36</tspan><tspan x="3638">92.60</tspan><tspan x="3772">45.38</tspan><tspan x="3885">89.15</tspan><tspan x="4020">43.74</tspan><tspan x="4132">89.68</tspan><tspan x="4266">41.49</tspan><tspan x="4378">90.48</tspan></text>
<text y="1291"><tspan x="3123">LoCoOp</tspan><tspan x="3329">CLIP-B/16</tspan><tspan x="3526">29.45</tspan><tspan x="3638">93.93</tspan><tspan x="3772" font-weight="700">41.13</tspan><tspan x="3885">90.32</tspan><tspan x="4020">44.15</tspan><tspan x="4132">90.54</tspan><tspan x="4266">38.24</tspan><tspan x="4378">91.60</tspan></text>
<text y="1326"><tspan x="3123">Ours</tspan><tspan x="3329">CLIP-B/16</tspan><tspan x="3540" font-weight="700">8.98</tspan><tspan x="3638" font-weight="700">98.19</tspan><tspan x="3772">44.00</tspan><tspan x="3885" font-weight="700">90.57</tspan><tspan x="4020" font-weight="700">25.27</tspan><tspan x="4132" font-weight="700">94.32</tspan><tspan x="4266" font-weight="700">26.08</tspan><tspan x="4378" font-weight="700">94.36</tspan></text>
</g>

<!-- Bar chart -->
<rect x="3103" y="1624" width="695" height="563" fill="#fff"/>
<path d="M3106,2143V1628H3795V2143H3106" fill="none" stroke="#555" stroke-width="2.5"/>
<g fill="#27aed6"><rect x="3137" y="2002" width="43" height="141"/><rect x="3268" y="1901" width="43" height="242"/><rect x="3400" y="1931" width="42" height="212"/><rect x="3531" y="1783" width="42" height="360"/><rect x="3663" y="1678" width="42" height="465"/></g>
<g fill="#3b5a84"><rect x="3195" y="1969" width="42" height="174"/><rect x="3326" y="1869" width="43" height="274"/><rect x="3458" y="1892" width="43" height="251"/><rect x="3590" y="1724" width="42" height="419"/><rect x="3721" y="1668" width="42" height="475"/></g>
<path d="M3186,2143v7M3318,2143v7M3450,2143v7M3582,2143v7M3713,2143v7" stroke="#333" stroke-width="2"/>
<g font-size="30" text-anchor="middle"><text x="3186" y="2179" class="d">MSP</text><text x="3318" y="2179" class="d">Energy</text><text x="3450" y="2179" class="d">Maha</text><text x="3582" y="2179" class="d">Fort/MSP</text><text x="3713" y="2179" class="d">Ours</text></g>
<g font-size="21" text-anchor="middle">
<text class="d" x="3158" y="1998">42.7</text><text class="d" x="3215" y="1964">48.1</text><text class="d" x="3289" y="1896">59.1</text><text class="d" x="3347" y="1864">64.2</text><text class="d" x="3420" y="1926">54.3</text><text class="d" x="3479" y="1887">60.5</text><text class="d" x="3552" y="1778">78.1</text><text class="d" x="3611" y="1718">87.8</text><text class="d" x="3683" y="1673">95.1</text><text class="d" x="3742" y="1663">96.7</text></g>
<rect x="3133" y="1655" width="275" height="125" rx="7" fill="#fff" stroke="#ccc" stroke-width="2.5"/>
<rect x="3144" y="1670" width="85" height="30" fill="#27aed6"/><rect x="3144" y="1732" width="85" height="30" fill="#3b5a84"/>
<g font-size="42"><text class="d" x="3263" y="1698">1-shot</text><text class="d" x="3263" y="1761">4-shot</text></g>

<!-- Scatter -->
<rect x="3807" y="1624" width="679" height="563" fill="#fff"/>
<rect x="3809" y="1628" width="675" height="556" fill="none" stroke="#555" stroke-width="2.5"/>
<ellipse cx="4300" cy="1688" rx="26" ry="28" fill="#fbb978"/><ellipse cx="3923" cy="1788" rx="18" ry="24" fill="#7fadd3"/><ellipse cx="4418" cy="2016" rx="26" ry="25" fill="#8ad1c9"/><ellipse cx="4178" cy="1947" rx="16" ry="24" fill="#e5d8d0"/><ellipse cx="4088" cy="2120" rx="18" ry="32" fill="#bdb8dd"/><ellipse cx="4058" cy="2098" rx="12" ry="10" fill="#bdb8dd"/>
<g fill="#fbb978"><use href="#st" x="4277" y="1657"/><use href="#st" x="4294" y="1652"/><use href="#st" x="4312" y="1661"/><use href="#st" x="4325" y="1671"/><use href="#st" x="4340" y="1685"/><use href="#st" x="4283" y="1680"/><use href="#st" x="4296" y="1672"/><use href="#st" x="4308" y="1678"/><use href="#st" x="4320" y="1688"/><use href="#st" x="4285" y="1695"/><use href="#st" x="4298" y="1690"/><use href="#st" x="4311" y="1700"/><use href="#st" x="4275" y="1700"/><use href="#st" x="4268" y="1697"/><use href="#st" x="4288" y="1706"/><use href="#st" x="4300" y="1708"/><use href="#st" x="4322" y="1702"/><use href="#st" x="4280" y="1716"/><use href="#st" x="4357" y="1714"/><use href="#st" x="4348" y="1731"/><use href="#st" x="4309" y="1733"/><use href="#st" x="4338" y="1740"/><use href="#st" x="4293" y="1720"/></g>
<g fill="#7fadd3"><use href="#st" x="3920" y="1752"/><use href="#st" x="3903" y="1760"/><use href="#st" x="3900" y="1770"/><use href="#st" x="3935" y="1756"/><use href="#st" x="3918" y="1768"/><use href="#st" x="3925" y="1775"/><use href="#st" x="3930" y="1785"/><use href="#st" x="3912" y="1787"/><use href="#st" x="3900" y="1795"/><use href="#st" x="3916" y="1800"/><use href="#st" x="3925" y="1795"/><use href="#st" x="3940" y="1795"/><use href="#st" x="3948" y="1793"/><use href="#st" x="3935" y="1805"/><use href="#st" x="3920" y="1808"/><use href="#st" x="3907" y="1807"/><use href="#st" x="3930" y="1778"/><use href="#st" x="3938" y="1770"/><use href="#st" x="3917" y="1832"/></g>
<g fill="#e5d8d0"><use href="#st" x="4193" y="1912"/><use href="#st" x="4187" y="1925"/><use href="#st" x="4199" y="1928"/><use href="#st" x="4212" y="1930"/><use href="#st" x="4176" y="1935"/><use href="#st" x="4180" y="1945"/><use href="#st" x="4192" y="1940"/><use href="#st" x="4203" y="1945"/><use href="#st" x="4160" y="1945"/><use href="#st" x="4165" y="1955"/><use href="#st" x="4178" y="1958"/><use href="#st" x="4195" y="1955"/><use href="#st" x="4168" y="1968"/><use href="#st" x="4182" y="1968"/><use href="#st" x="4190" y="1975"/><use href="#st" x="4160" y="1960"/><use href="#st" x="4175" y="1980"/><use href="#st" x="4258" y="1961"/></g>
<g fill="#8ad1c9"><use href="#st" x="4430" y="1970"/><use href="#st" x="4371" y="1987"/><use href="#st" x="4393" y="1985"/><use href="#st" x="4400" y="1995"/><use href="#st" x="4415" y="2000"/><use href="#st" x="4425" y="1998"/><use href="#st" x="4440" y="2000"/><use href="#st" x="4450" y="2010"/><use href="#st" x="4380" y="2005"/><use href="#st" x="4400" y="2012"/><use href="#st" x="4410" y="2010"/><use href="#st" x="4425" y="2015"/><use href="#st" x="4438" y="2015"/><use href="#st" x="4379" y="2020"/><use href="#st" x="4378" y="2030"/><use href="#st" x="4395" y="2020"/><use href="#st" x="4412" y="2028"/><use href="#st" x="4425" y="2030"/><use href="#st" x="4450" y="2025"/><use href="#st" x="4405" y="2040"/><use href="#st" x="4420" y="2045"/><use href="#st" x="4410" y="2025"/><use href="#st" x="4435" y="2038"/></g>
<g fill="#bdb8dd"><use href="#st" x="4103" y="2082"/><use href="#st" x="4095" y="2090"/><use href="#st" x="4082" y="2093"/><use href="#st" x="4063" y="2098"/><use href="#st" x="4053" y="2100"/><use href="#st" x="4045" y="2105"/><use href="#st" x="4082" y="2104"/><use href="#st" x="4098" y="2108"/><use href="#st" x="4112" y="2110"/><use href="#st" x="4060" y="2112"/><use href="#st" x="4075" y="2115"/><use href="#st" x="4090" y="2122"/><use href="#st" x="4110" y="2125"/><use href="#st" x="4100" y="2135"/><use href="#st" x="4115" y="2135"/><use href="#st" x="4095" y="2145"/><use href="#st" x="4080" y="2150"/><use href="#st" x="4105" y="2150"/><use href="#st" x="4085" y="2155"/><use href="#st" x="4055" y="2158"/><use href="#st" x="4070" y="2158"/><use href="#st" x="4083" y="2158"/></g>
<g fill="#f0424a"><circle cx="4322" cy="1705" r="6"/><circle cx="4330" cy="1708" r="6"/><circle cx="4340" cy="1704" r="6"/><circle cx="4345" cy="1706" r="6"/><circle cx="4320" cy="1715" r="6"/><circle cx="4326" cy="1722" r="6"/><circle cx="4335" cy="1718" r="6"/><circle cx="4322" cy="1726" r="6"/><circle cx="4330" cy="1712" r="6"/>
<circle cx="3842" cy="1787" r="6"/><circle cx="3850" cy="1781" r="6"/><circle cx="3848" cy="1795" r="6"/><circle cx="3857" cy="1790" r="6"/><circle cx="3865" cy="1787" r="6"/><circle cx="3860" cy="1800" r="6"/><circle cx="3870" cy="1795" r="6"/><circle cx="3878" cy="1795" r="6"/><circle cx="3853" cy="1805" r="6"/><circle cx="3866" cy="1808" r="6"/><circle cx="3874" cy="1806" r="6"/><circle cx="3840" cy="1790" r="6"/>
<circle cx="4226" cy="1952" r="6"/><circle cx="4232" cy="1955" r="6"/><circle cx="4238" cy="1950" r="6"/><circle cx="4246" cy="1955" r="6"/><circle cx="4256" cy="1953" r="6"/><circle cx="4262" cy="1955" r="6"/><circle cx="4293" cy="1945" r="6"/><circle cx="4296" cy="1952" r="6"/><circle cx="4289" cy="1955" r="6"/><circle cx="4300" cy="1957" r="6"/><circle cx="4285" cy="1965" r="6"/><circle cx="4292" cy="1962" r="6"/><circle cx="4312" cy="1968" r="6"/>
<circle cx="4379" cy="1965" r="6"/><circle cx="4382" cy="1972" r="6"/><circle cx="4390" cy="1975" r="6"/><circle cx="4400" cy="1975" r="6"/><circle cx="4412" cy="1978" r="6"/><circle cx="4414" cy="1985" r="6"/><circle cx="4410" cy="1990" r="6"/><circle cx="4406" cy="1988" r="6"/><circle cx="4352" cy="1984" r="6"/><circle cx="4353" cy="1990" r="6"/><circle cx="4352" cy="1995" r="6"/>
<circle cx="4038" cy="2133" r="6"/><circle cx="4040" cy="2140" r="6"/><circle cx="4036" cy="2145" r="6"/><circle cx="4030" cy="2150" r="6"/><circle cx="4060" cy="2127" r="6"/><circle cx="4066" cy="2135" r="6"/><circle cx="4056" cy="2140" r="6"/><circle cx="4060" cy="2146" r="6"/><circle cx="4050" cy="2148" r="6"/></g>
<rect x="3817" y="1851" width="201" height="327" rx="6" fill="#fff" fill-opacity=".9" stroke="#ccc" stroke-width="2"/>
<g font-size="37"><text class="d" x="3868" y="1886">Outliers</text><text class="d" x="3868" y="1943">Class 0</text><text class="d" x="3868" y="2000">Class 1</text><text class="d" x="3868" y="2056">Class 2</text><text class="d" x="3868" y="2113">Class 3</text><text class="d" x="3868" y="2169">Class 4</text></g>
<circle cx="3837" cy="1871" r="11" fill="#f2595f"/>
<use href="#st" transform="translate(3837,1931) scale(1.2)" fill="#fbb978"/><use href="#st" transform="translate(3837,1989) scale(1.2)" fill="#7fadd3"/><use href="#st" transform="translate(3837,2044) scale(1.2)" fill="#8ad1c9"/><use href="#st" transform="translate(3837,2102) scale(1.2)" fill="#bdb8dd"/><use href="#st" transform="translate(3837,2158) scale(1.2)" fill="#e5d8d0"/>
</svg>

<!-- Justified body text -->
<div class="j" style="left:100px;top:506px;width:1388px">Some OOD samples are difficult to detect because they have visual or</div>
<div class="j" style="left:100px;top:566px;width:1388px">semantic features that are similar to ID samples. The construction of</div>
<div class="j" style="left:100px;top:626px;width:1388px">such OOD samples is conducive to improving the OOD detection</div>
<div class="j" style="left:100px;top:687px;width:1388px">performance of the model. However, these samples are usually difficult</div>
<div class="j l" style="left:100px;top:746px;width:1388px">to collect.</div>

<div class="j" style="left:158px;top:1540px;width:1330px">We propose a novel framework without additional training to</div>
<div class="j" style="left:158px;top:1601px;width:1330px">automatically explore ID-Like OOD samples in the vicinity space of</div>
<div class="j l" style="left:158px;top:1661px;width:1330px">ID samples.</div>
<div class="j" style="left:158px;top:1781px;width:1330px">We propose an ID-Like prompt learning method to identify the most</div>
<div class="j l" style="left:158px;top:1841px;width:1330px">challenging OOD samples, which behave ID-Like yet are distinct.</div>
<div class="j" style="left:158px;top:1961px;width:1330px">We validated our method on several real-world large-scale datasets,</div>
<div class="j" style="left:158px;top:2021px;width:1330px">and the results show that our method achieved impressive</div>
<div class="j l" style="left:158px;top:2080px;width:1330px">performance.</div>

<div class="j" style="left:1602px;top:515px;width:1386px">Due to the difficulty in collecting ID-like OOD samples, we sample</div>
<div class="j" style="left:1602px;top:574px;width:1386px">from the original ID samples, selecting those that exhibit partial ID</div>
<div class="j" style="left:1602px;top:633px;width:1386px">characteristics yet lack sufficient features to be classified as ID, to serve</div>
<div class="j" style="left:1602px;top:692px;width:1386px">as ID-like OOD samples. Then, we employ prompt learning to generate</div>
<div class="j l" style="left:1602px;top:751px;width:1386px">the corresponding prompts for these selected samples.</div>

<div class="j l" style="left:3100px;top:514px;width:1388px">OOD detection performance for ImageNet-1k as ID.</div>
<div class="j" style="left:3100px;top:1496px;width:1388px">AUROC performance of different methods under the few-shot setting,</div>
<div class="j l" style="left:3100px;top:1555px;width:1388px">and visualization of ID-like OOD samples and ID samples.</div>
</div></body></html>
